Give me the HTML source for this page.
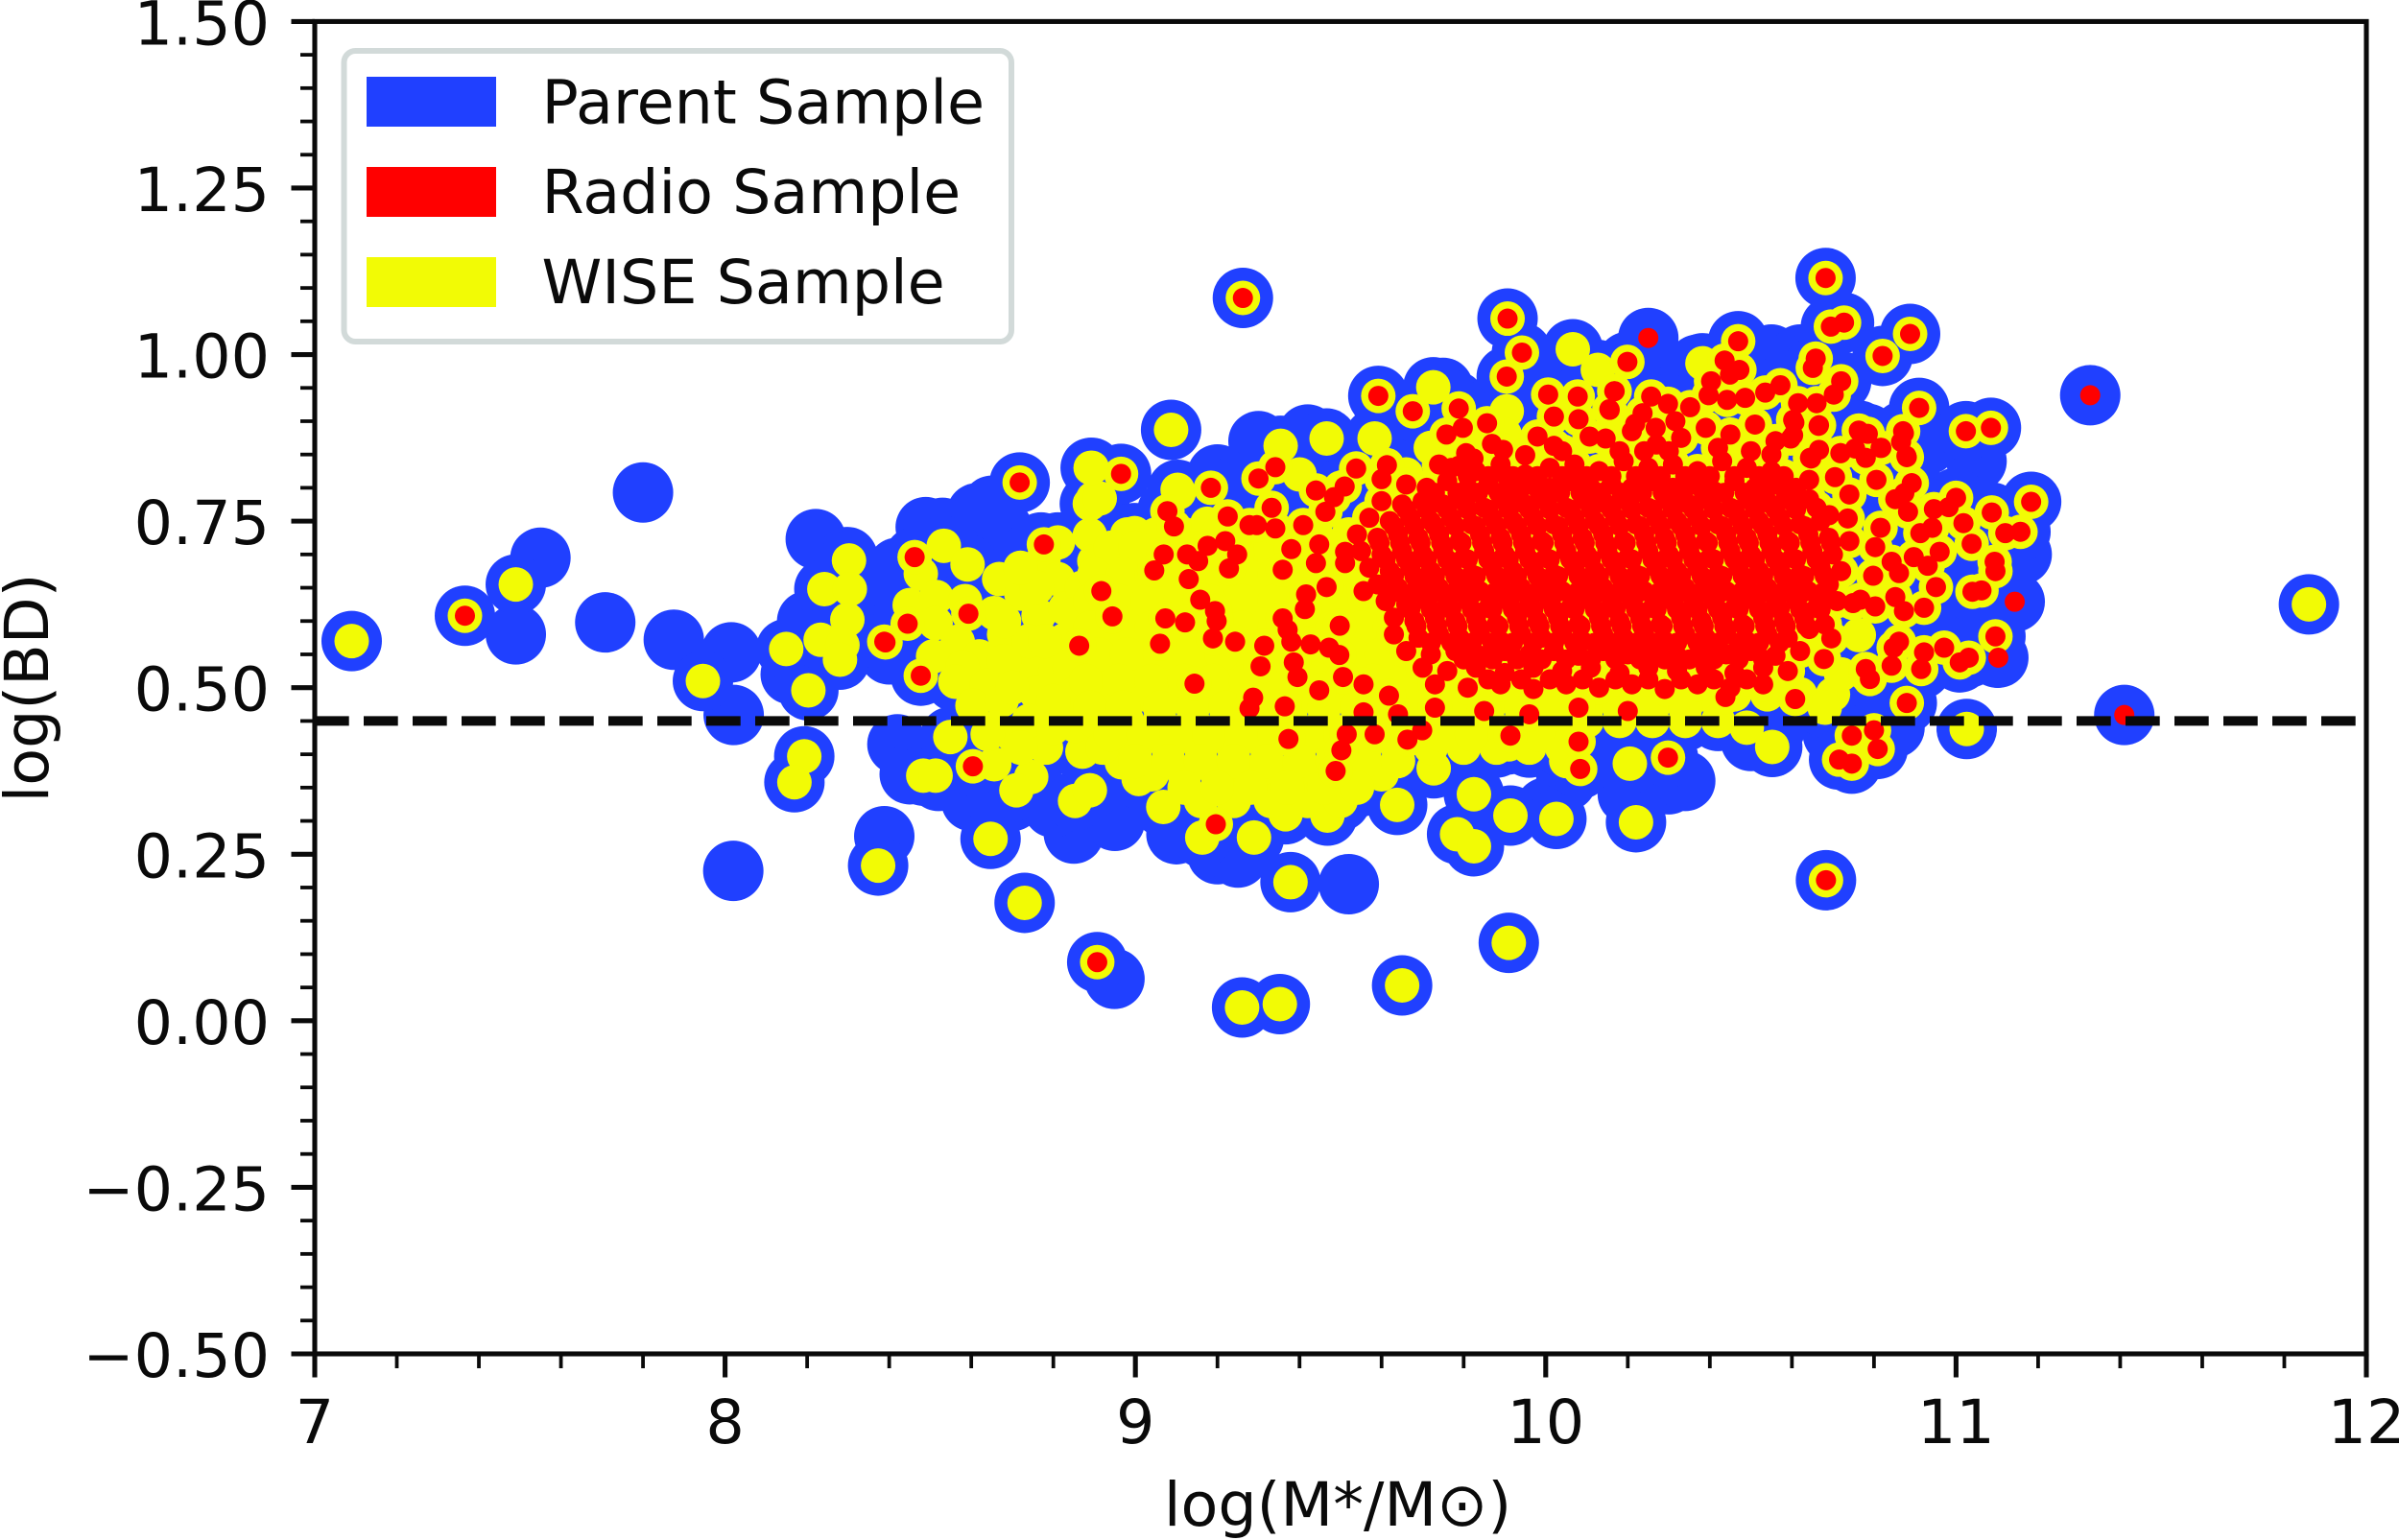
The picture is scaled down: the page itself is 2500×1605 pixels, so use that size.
<!DOCTYPE html>
<html lang="en">
<head>
<meta charset="utf-8">
<title>log(BD) vs log(M*/M⊙)</title>
<style>
html,body{margin:0;padding:0;background:#fff}
svg{display:block}
text{font-family:"DejaVu Sans","Liberation Sans",sans-serif;fill:#0a0a0a;font-size:63.5px}
</style>
</head>
<body>
<svg id="chart" width="2500" height="1605" viewBox="0 0 2500 1605" xmlns="http://www.w3.org/2000/svg">
  <rect x="0" y="0" width="2500" height="1605" fill="#ffffff"/>
  <g id="parent-layer"></g>
  <g id="wise-layer"></g>
  <g id="radio-layer"></g>
  <line id="threshold" stroke="#0a0a0a" stroke-width="10" stroke-dasharray="35.7 15.3"/>
  <g id="axes-layer"></g>
  <g>
    <rect x="358.5" y="53" width="695.5" height="303" rx="12" ry="12" fill="#ffffff" stroke="#d2dad9" stroke-width="6"/>
    <rect x="382" y="80" width="135" height="52" fill="#2040ff"/>
    <text x="564.5" y="128.5">Parent Sample</text>
    <rect x="382" y="174" width="135" height="52" fill="#ff0000"/>
    <text x="564.5" y="222">Radio Sample</text>
    <rect x="382" y="268" width="135" height="52" fill="#f2fb05"/>
    <text x="564.5" y="316">WISE Sample</text>
  </g>
  <text x="1394" y="1590" text-anchor="middle">log(M*/M⊙)</text>
  <text transform="translate(50,717) rotate(-90)" text-anchor="middle">log(BD)</text>
</svg>
<script>
const xMajorTicks = [7, 8, 9, 10, 11, 12];
const xMajorLabels = ["7", "8", "9", "10", "11", "12"];
const xMinorTicks = [7.2,7.4,7.6,7.8,8.2,8.4,8.6,8.8,9.2,9.4,9.6,9.8,10.2,10.4,10.6,10.8,11.2,11.4,11.6,11.8];
const yMajorTicks = [-0.5, -0.25, 0, 0.25, 0.5, 0.75, 1, 1.25, 1.5];
const yMajorLabels = ["−0.50", "−0.25", "0.00", "0.25", "0.50", "0.75", "1.00", "1.25", "1.50"];
const yMinorTicks = [-0.45,-0.4,-0.35,-0.3,-0.2,-0.15,-0.1,-0.05,0.05,0.1,0.15,0.2,0.3,0.35,0.4,0.45,0.55,0.6,0.65,0.7,0.8,0.85,0.9,0.95,1.05,1.1,1.15,1.2,1.3,1.35,1.4,1.45];
const thresholdValue = 0.45;

// Points in the parent sample only (blue)
const parentOnly = [[7.8,.793],[7.55,.695],[7.49,.58],[7.708,.598],[7.875,.572],[8.015,.553],[8.021,.459],[8.02,.225],[8.221,.723],[8.388,.277],[8.85,.281],[8.949,.063],[9.52,.205],[8.42,.415],[8.489,.741],[8.298,.696],[8.614,.762],[8.674,.74],[8.65,.773],[8.77,.718],[8.53,.74],[8.42,.68],[8.5,.66],[8.36,.6],[8.4,.55],[8.16,.52],[8.2,.6],[8.45,.37],[8.52,.36],[8.6,.33],[8.7,.33],[8.8,.32],[8.95,.3],[9.1,.28],[9.2,.25],[9.25,.245],[10.0,.32],[10.2,.34],[10.3,.355],[10.34,.36],[10.05,.36],[10.5,.42],[10.56,.44],[10.7,.43],[10.85,.44],[11.0,.545],[11.1,.545],[11.12,.625],[11.03,.75],[11.05,.84],[10.93,.865],[10.37,.985],[10.3,.95],[10.55,1.0],[10.62,1.0],[10.94,.7],[11.05,.6],[11.0,.67],[9.3,.87],[9.42,.88],[9.2,.82],[8.9,.76],[9.6,.93],[9.75,.95],[9.95,.95],[10.12,.96],[9.78,.93],[11.16,.7],[8.72,.5],[8.62,.42]];

// Points in the WISE sample but not the radio sample (yellow over blue)
const wiseOnly = [[7.09,.57],[7.49,.655],[7.946,.51],[8.149,.558],[8.203,.496],[8.302,.691],[8.242,.648],[8.304,.648],[8.298,.602],[8.233,.572],[8.286,.564],[8.28,.542],[8.193,.397],[8.169,.358],[8.373,.233],[8.647,.273],[8.73,.177],[9.378,.208],[9.26,.02],[9.352,.025],[9.65,.053],[9.91,.117],[11.026,.438],[11.86,.625],[9.087,.887],[9.726,.951],[10.066,1.008],[10.127,.977],[10.382,.987],[8.894,.83],[8.897,.784],[9.103,.797],[9.354,.863],[9.466,.874],[9.583,.874],[9.905,.915],[8.533,.713],[8.477,.671],[8.591,.685],[8.668,.663],[8.722,.641],[8.45,.624],[8.515,.636],[8.585,.63],[8.656,.612],[8.764,.608],[8.513,.597],[8.567,.569],[8.507,.547],[8.62,.547],[8.579,.531],[8.561,.509],[8.638,.503],[8.716,.539],[8.758,.531],[8.758,.492],[8.603,.473],[8.674,.481],[8.811,.718],[8.776,.693],[8.889,.729],[8.889,.776],[8.913,.784],[8.891,.83],[8.998,.732],[8.949,.702],[9.106,.793],[9.175,.746],[8.811,.663],[8.829,.619],[8.829,.572],[8.805,.525],[8.889,.487],[8.949,.531],[8.549,.426],[8.483,.368],[8.513,.368],[8.656,.385],[8.704,.426],[8.782,.41],[8.746,.366],[8.71,.346],[8.853,.33],[8.889,.346],[8.871,.404],[8.853,.443],[8.967,.388],[9.008,.363],[9.068,.321],[9.163,.275],[9.289,.275],[9.366,.31],[9.271,.36],[9.318,.36],[9.468,.308],[9.825,.34],[9.784,.28],[9.825,.262],[9.914,.308],[10.026,.303],[10.22,.298],[10.205,.386],[10.05,.39],[9.638,.324],[9.91,.415],[9.727,.379],[10.552,.411],[10.49,.44],[10.763,.579],
[8.98,.73],[9.05,.73],[9.12,.73],[9.2,.73],[9.3,.73],[9.38,.73],[9.44,.73],[9.52,.73],
[8.9,.69],[8.98,.69],[9.04,.69],[9.1,.69],[9.2,.69],[9.28,.69],[9.34,.69],[9.42,.69],[9.5,.69],[9.56,.69],
[8.87,.65],[8.93,.65],[9.0,.65],[9.08,.65],[9.16,.65],[9.23,.65],[9.3,.65],[9.37,.65],[9.44,.65],[9.52,.65],[9.6,.65],
[8.85,.61],[8.92,.61],[9.0,.61],[9.07,.61],[9.14,.61],[9.22,.61],[9.3,.61],[9.37,.61],[9.45,.61],[9.52,.61],[9.6,.61],
[8.87,.57],[8.95,.57],[9.02,.57],[9.1,.57],[9.17,.57],[9.25,.57],[9.33,.57],[9.41,.57],[9.5,.57],[9.57,.57],[9.64,.57],
[8.84,.53],[8.92,.53],[9.0,.53],[9.08,.53],[9.15,.53],[9.23,.53],[9.3,.53],[9.38,.53],[9.46,.53],[9.54,.53],[9.62,.53],
[8.85,.49],[8.93,.49],[9.02,.49],[9.1,.49],[9.18,.49],[9.26,.49],[9.34,.49],[9.42,.49],[9.5,.49],[9.58,.49],[9.66,.49],[9.74,.49],[9.82,.49],[9.9,.49],[9.98,.49],[10.06,.49],[10.14,.49],[10.22,.49],[10.3,.49],[10.38,.49],[10.46,.49],[10.54,.49],[10.62,.49],[10.7,.49],
[8.9,.45],[8.98,.45],[9.06,.45],[9.14,.45],[9.22,.45],[9.3,.45],[9.38,.45],[9.46,.45],[9.54,.45],[9.62,.45],[9.7,.45],[9.78,.45],[9.86,.45],[9.94,.45],[10.02,.45],[10.1,.45],[10.18,.45],[10.26,.45],[10.34,.45],[10.42,.45],
[8.92,.41],[9.0,.41],[9.08,.41],[9.16,.41],[9.24,.41],[9.32,.41],[9.4,.41],[9.48,.41],[9.56,.41],[9.64,.41],[9.72,.41],[9.8,.41],[9.88,.41],[9.96,.41],[10.04,.41],
[9.04,.37],[9.12,.37],[9.2,.37],[9.28,.37],[9.36,.37],[9.44,.37],[9.52,.37],[9.6,.37],
[9.16,.33],[9.24,.33],[9.33,.33],[9.42,.33],[9.5,.33],
[9.6,.76],[9.66,.82],[9.72,.86],[9.5,.8],[9.4,.82],[9.6,.7],[9.9,.88],[10.72,.52],[10.68,.47],[10.78,.52],
[8.94,.71],[9.0,.71],[9.08,.71],[9.16,.71],[9.24,.71],[9.33,.71],[9.4,.71],[9.48,.71],[9.55,.71],
[8.9,.67],[8.97,.67],[9.04,.67],[9.12,.67],[9.2,.67],[9.27,.67],[9.34,.67],[9.41,.67],[9.48,.67],[9.56,.67],[9.64,.67],
[8.89,.63],[8.96,.63],[9.03,.63],[9.11,.63],[9.18,.63],[9.26,.63],[9.34,.63],[9.41,.63],[9.49,.63],[9.56,.63],
[8.89,.59],[8.96,.59],[9.04,.59],[9.11,.59],[9.18,.59],[9.26,.59],[9.34,.59],[9.41,.59],[9.48,.59],[9.55,.59],[9.62,.59],
[8.91,.55],[8.98,.55],[9.06,.55],[9.14,.55],[9.21,.55],[9.29,.55],[9.37,.55],[9.45,.55],[9.53,.55],[9.6,.55],
[8.88,.51],[8.96,.51],[9.04,.51],[9.12,.51],[9.19,.51],[9.27,.51],[9.34,.51],[9.42,.51],[9.5,.51],[9.58,.51],[9.66,.51],
[8.89,.47],[8.97,.47],[9.06,.47],[9.14,.47],[9.22,.47],[9.3,.47],[9.38,.47],[9.46,.47],[9.54,.47],[9.62,.47],[9.7,.47],[9.78,.47],[9.86,.47],[9.94,.47],[10.02,.47],[10.1,.47],[10.18,.47],[10.26,.47],[10.34,.47],
[8.94,.43],[9.02,.43],[9.1,.43],[9.18,.43],[9.26,.43],[9.34,.43],[9.42,.43],[9.5,.43],[9.58,.43],[9.66,.43],[9.74,.43],[9.82,.43],[9.9,.43],[9.98,.43],
[9.0,.39],[9.08,.39],[9.16,.39],[9.24,.39],[9.32,.39],[9.4,.39],[9.48,.39],[9.56,.39],[9.64,.39],
[9.12,.35],[9.2,.35],[9.28,.35],[9.37,.35],[9.46,.35],[9.54,.35],
[8.68,.58],[8.74,.57],[8.68,.54],[8.78,.57],[8.7,.5],[8.8,.48],[8.66,.44],[8.74,.45],[8.8,.44],[8.72,.41],[8.64,.43],[8.68,.6],[8.76,.65],[8.72,.68]];

// Points in both the radio and WISE samples (red over yellow over blue)
const radioWise = [[7.366,.608],[8.388,.569],[8.907,.088],[9.262,1.085],[10.682,1.115],[10.695,1.042],[10.727,1.048],[10.888,1.031],[10.821,.998],[10.469,1.02],[10.199,.989],[10.006,.94],[10.078,.937],[10.167,.945],[10.156,.917],[10.436,.991],[10.449,.97],[10.472,.977],[10.403,.96],[10.397,.939],[10.658,.994],[10.651,.98],[10.72,.96],[10.702,.94],[10.91,.92],[11.024,.885],[11.085,.89],[10.879,.848],[10.892,.807],[10.874,.792],[10.852,.783],[10.883,.764],[10.763,.886],[10.785,.881],[10.718,.852],[10.754,.859],[10.78,.845],[10.816,.86],[10.615,.927],[10.66,.927],[10.606,.898],[10.597,.874],[10.666,.894],[10.666,.857],[10.644,.845],[10.806,.812],[10.642,.812],[10.642,.783],[10.705,.816],[10.74,.79],[10.691,.759],[10.736,.754],[10.803,.711],[10.816,.74],[11.0,.785],[10.982,.771],[10.946,.768],[11.087,.763],[11.183,.779],[11.12,.732],[11.157,.734],[11.018,.747],[11.038,.716],[10.913,.732],[10.942,.74],[10.897,.696],[10.96,.704],[10.931,.683],[11.094,.689],[11.096,.675],[10.843,.689],[10.861,.672],[10.798,.668],[10.951,.651],[11.04,.644],[11.062,.646],[10.767,.632],[10.803,.622],[10.749,.627],[10.852,.636],[10.873,.615],[10.922,.62],[11.096,.577],[10.861,.569],[10.848,.56],[10.922,.553],[10.971,.56],[11.009,.538],[11.031,.545],[10.678,.543],[10.696,.574],[10.642,.588],[10.78,.528],[10.843,.533],[10.915,.528],
[9.907,1.054],[9.942,1.003],[9.905,.967],[9.592,.938],[9.676,.915],[9.788,.919],[9.857,.897],[9.798,.89],[9.758,.88],[8.718,.808],[8.965,.821],[9.184,.8],[9.341,.831],[9.3,.814],[9.538,.829],[9.613,.834],[9.6,.813],[9.44,.796],[9.51,.802],[9.484,.786],[9.463,.764],[9.74,.835],[9.806,.852],[9.824,.844],[9.788,.833],[9.869,.866],[9.896,.857],[9.95,.849],[9.98,.877],[10.02,.907],[10.02,.863],[10.08,.903],[10.107,.877],[10.146,.874],[10.155,.918],[10.168,.945],[10.257,.937],[10.298,.926],[10.236,.912],[10.218,.896],[10.268,.89],[10.316,.9],[10.352,.921],[10.442,.932],[10.486,.935],[10.535,.943],[10.572,.954],[10.603,.902],[10.603,.879],[10.665,.893],[10.647,.844],[10.719,.852],
[8.777,.715],[9.078,.765],[9.094,.742],[9.225,.757],[9.278,.744],[9.296,.744],[9.332,.77],[9.341,.739],[9.409,.744],[9.176,.713],[9.219,.72],[9.248,.7],[9.069,.7],[9.126,.7],[9.153,.69],[9.046,.676],[9.228,.679],[9.13,.663],[9.38,.708],[9.448,.715],[9.511,.704],[9.44,.687],[9.511,.687],[9.359,.677],[8.917,.645],[9.466,.651],[9.416,.64],[9.556,.645],[9.158,.632],[9.194,.615],[9.198,.6],[8.944,.607],[9.073,.604],[9.121,.598],[8.593,.611],[9.413,.618],[9.359,.604],[9.371,.587],[9.498,.593],[9.189,.574],[9.243,.569],[8.863,.563],[9.06,.566],[9.314,.563],[9.305,.532],[9.38,.569],[9.427,.565],[9.472,.56],[9.497,.549],[9.386,.538],[9.395,.516],[9.144,.506],[9.506,.516],[9.448,.496],[9.556,.505],[9.287,.485],[9.278,.469],[9.364,.472],[9.618,.488],[9.556,.463],[9.373,.423],[9.515,.43],[9.583,.43],[9.502,.406],[9.488,.375],[9.663,.422],[9.699,.436],[9.914,.428],[10.08,.419],[10.298,.395],[10.084,.378],[8.604,.382],[10.438,.486],[10.608,.483],[10.88,.477],[10.79,.513],[10.746,.428],[10.8,.436],[10.809,.408],[10.715,.392],[10.746,.386],[10.871,.885],[10.818,.86],[10.764,.885],[10.88,.846],[8.391,.568],[8.477,.518],[8.462,.696],[8.445,.596],[9.196,.295],[10.683,.211],
[9.77,.83],[9.83,.825],[9.89,.835],[9.95,.82],[10.01,.83],[10.07,.835],[10.13,.825],[10.19,.84],[10.25,.83],[10.31,.835],[10.37,.825],[10.43,.84],[10.49,.83],[10.55,.825],
[9.66,.805],[9.71,.8],[9.76,.81],[9.81,.8],[9.86,.805],[9.91,.795],[9.96,.805],[10.01,.8],[10.06,.81],[10.11,.8],[10.16,.805],[10.21,.8],[10.26,.81],[10.31,.8],[10.36,.805],[10.41,.795],[10.46,.81],[10.51,.8],[10.56,.805],[10.61,.8],
[9.6,.78],[9.65,.775],[9.7,.78],[9.75,.775],[9.8,.78],[9.85,.77],[9.9,.78],[9.95,.775],[10.0,.78],[10.05,.77],[10.1,.78],[10.15,.775],[10.2,.78],[10.25,.77],[10.3,.78],[10.35,.775],[10.4,.78],[10.45,.77],[10.5,.78],[10.55,.775],[10.6,.78],[10.66,.77],
[9.57,.755],[9.62,.75],[9.67,.755],[9.72,.75],[9.77,.755],[9.82,.745],[9.87,.755],[9.92,.75],[9.97,.755],[10.02,.745],[10.07,.755],[10.12,.75],[10.17,.755],[10.22,.745],[10.27,.755],[10.32,.75],[10.37,.755],[10.42,.745],[10.47,.755],[10.52,.75],[10.57,.755],[10.62,.745],[10.67,.75],
[9.54,.73],[9.59,.725],[9.64,.73],[9.69,.725],[9.74,.73],[9.79,.72],[9.84,.73],[9.89,.725],[9.94,.73],[9.99,.72],[10.04,.73],[10.09,.725],[10.14,.73],[10.19,.72],[10.24,.73],[10.29,.725],[10.34,.73],[10.39,.72],[10.44,.73],[10.49,.725],[10.54,.73],[10.59,.72],[10.64,.73],[10.69,.725],[10.74,.72],
[9.55,.705],[9.6,.7],[9.65,.705],[9.7,.7],[9.75,.705],[9.8,.695],[9.85,.705],[9.9,.7],[9.95,.705],[10.0,.695],[10.05,.705],[10.1,.7],[10.15,.705],[10.2,.695],[10.25,.705],[10.3,.7],[10.35,.705],[10.4,.695],[10.45,.705],[10.5,.7],[10.55,.705],[10.6,.695],[10.65,.705],[10.7,.7],
[9.57,.68],[9.62,.675],[9.67,.68],[9.72,.675],[9.77,.68],[9.82,.67],[9.87,.68],[9.92,.675],[9.97,.68],[10.02,.67],[10.07,.68],[10.12,.675],[10.17,.68],[10.22,.67],[10.27,.68],[10.32,.675],[10.37,.68],[10.42,.67],[10.47,.68],[10.52,.675],[10.57,.68],[10.62,.67],[10.67,.68],[10.72,.675],
[9.59,.655],[9.64,.65],[9.69,.655],[9.74,.65],[9.79,.655],[9.84,.645],[9.89,.655],[9.94,.65],[9.99,.655],[10.04,.645],[10.09,.655],[10.14,.65],[10.19,.655],[10.24,.645],[10.29,.655],[10.34,.65],[10.39,.655],[10.44,.645],[10.49,.655],[10.54,.65],[10.59,.655],[10.64,.645],[10.69,.655],
[9.61,.63],[9.66,.625],[9.71,.63],[9.76,.625],[9.81,.63],[9.86,.62],[9.91,.63],[9.96,.625],[10.01,.63],[10.06,.62],[10.11,.63],[10.16,.625],[10.21,.63],[10.26,.62],[10.31,.63],[10.36,.625],[10.41,.63],[10.46,.62],[10.51,.63],[10.56,.625],[10.61,.63],[10.66,.62],[10.71,.63],
[9.63,.605],[9.68,.6],[9.73,.605],[9.78,.6],[9.83,.605],[9.88,.595],[9.93,.605],[9.98,.6],[10.03,.605],[10.08,.595],[10.13,.605],[10.18,.6],[10.23,.605],[10.28,.595],[10.33,.605],[10.38,.6],[10.43,.605],[10.48,.595],[10.53,.605],[10.58,.6],[10.63,.605],[10.68,.595],
[9.63,.58],[9.69,.575],[9.74,.58],[9.79,.575],[9.84,.58],[9.89,.57],[9.94,.58],[9.99,.575],[10.04,.58],[10.09,.57],[10.14,.58],[10.19,.575],[10.24,.58],[10.29,.57],[10.34,.58],[10.39,.575],[10.44,.58],[10.49,.57],[10.54,.58],[10.59,.575],
[9.66,.555],[9.72,.55],[9.78,.555],[9.84,.548],[9.9,.555],[9.96,.55],[10.02,.555],[10.08,.548],[10.14,.555],[10.2,.55],[10.26,.555],[10.32,.548],[10.38,.555],[10.44,.55],[10.5,.555],[10.56,.548],[10.62,.555],
[9.7,.53],[9.76,.525],[9.83,.53],[9.9,.522],[9.97,.53],[10.04,.525],[10.11,.53],[10.18,.522],[10.25,.53],[10.32,.525],[10.39,.53],[10.46,.522],[10.53,.53],[10.59,.525],
[9.73,.505],[9.81,.5],[9.89,.505],[9.97,.498],[10.05,.505],[10.13,.5],[10.21,.505],[10.29,.498],[10.37,.505],[10.45,.5],[10.53,.505],
[9.73,.47],[9.85,.465],[9.96,.46],[10.08,.47],[10.2,.465],[9.64,.46],
[10.21,.885],[10.27,.865],[10.33,.875],[10.39,.89],[10.45,.88],[10.51,.895],[10.56,.87],[10.3,.855],[10.42,.86],[10.5,.855],[10.24,.855],[10.18,.855],[9.9,.82],[10.04,.855],[10.55,.85],
[9.81,.8175],[9.86,.8175],[9.92,.8175],[9.98,.8175],[10.04,.8175],[10.1,.8175],[10.16,.8175],[10.22,.8175],[10.28,.8175],[10.34,.8175],[10.4,.8175],[10.46,.8175],[10.52,.8175],[10.58,.8175],
[9.73,.7925],[9.785,.7925],[9.835,.7925],[9.885,.7925],[9.935,.7925],[9.985,.7925],[10.035,.7925],[10.085,.7925],[10.135,.7925],[10.185,.7925],[10.235,.7925],[10.285,.7925],[10.335,.7925],[10.385,.7925],[10.435,.7925],[10.485,.7925],[10.535,.7925],[10.585,.7925],
[9.66,.7675],[9.71,.7675],[9.76,.7675],[9.81,.7675],[9.86,.7675],[9.91,.7675],[9.96,.7675],[10.01,.7675],[10.06,.7675],[10.11,.7675],[10.16,.7675],[10.21,.7675],[10.26,.7675],[10.31,.7675],[10.36,.7675],[10.41,.7675],[10.46,.7675],[10.51,.7675],[10.56,.7675],[10.61,.7675],
[9.63,.7425],[9.68,.7425],[9.73,.7425],[9.78,.7425],[9.83,.7425],[9.88,.7425],[9.93,.7425],[9.98,.7425],[10.03,.7425],[10.08,.7425],[10.13,.7425],[10.18,.7425],[10.23,.7425],[10.28,.7425],[10.33,.7425],[10.38,.7425],[10.43,.7425],[10.48,.7425],[10.53,.7425],[10.58,.7425],[10.63,.7425],
[9.595,.7175],[9.645,.7175],[9.695,.7175],[9.745,.7175],[9.795,.7175],[9.845,.7175],[9.895,.7175],[9.945,.7175],[9.995,.7175],[10.045,.7175],[10.095,.7175],[10.145,.7175],[10.195,.7175],[10.245,.7175],[10.295,.7175],[10.345,.7175],[10.395,.7175],[10.445,.7175],[10.495,.7175],[10.545,.7175],[10.595,.7175],[10.645,.7175],[10.695,.7175],
[9.61,.6925],[9.66,.6925],[9.71,.6925],[9.76,.6925],[9.81,.6925],[9.86,.6925],[9.91,.6925],[9.96,.6925],[10.01,.6925],[10.06,.6925],[10.11,.6925],[10.16,.6925],[10.21,.6925],[10.26,.6925],[10.31,.6925],[10.36,.6925],[10.41,.6925],[10.46,.6925],[10.51,.6925],[10.56,.6925],[10.61,.6925],[10.66,.6925],
[9.63,.6675],[9.68,.6675],[9.73,.6675],[9.78,.6675],[9.83,.6675],[9.88,.6675],[9.93,.6675],[9.98,.6675],[10.03,.6675],[10.08,.6675],[10.13,.6675],[10.18,.6675],[10.23,.6675],[10.28,.6675],[10.33,.6675],[10.38,.6675],[10.43,.6675],[10.48,.6675],[10.53,.6675],[10.58,.6675],[10.63,.6675],[10.68,.6675],
[9.625,.6425],[9.675,.6425],[9.725,.6425],[9.775,.6425],[9.825,.6425],[9.875,.6425],[9.925,.6425],[9.975,.6425],[10.025,.6425],[10.075,.6425],[10.125,.6425],[10.175,.6425],[10.225,.6425],[10.275,.6425],[10.325,.6425],[10.375,.6425],[10.425,.6425],[10.475,.6425],[10.525,.6425],[10.575,.6425],[10.625,.6425],[10.675,.6425],
[9.67,.6175],[9.72,.6175],[9.77,.6175],[9.82,.6175],[9.87,.6175],[9.92,.6175],[9.97,.6175],[10.02,.6175],[10.07,.6175],[10.12,.6175],[10.17,.6175],[10.22,.6175],[10.27,.6175],[10.32,.6175],[10.37,.6175],[10.42,.6175],[10.47,.6175],[10.52,.6175],[10.57,.6175],[10.62,.6175],[10.67,.6175],
[9.685,.5925],[9.735,.5925],[9.785,.5925],[9.835,.5925],[9.885,.5925],[9.935,.5925],[9.985,.5925],[10.035,.5925],[10.085,.5925],[10.135,.5925],[10.185,.5925],[10.235,.5925],[10.285,.5925],[10.335,.5925],[10.385,.5925],[10.435,.5925],[10.485,.5925],[10.535,.5925],[10.585,.5925],[10.635,.5925],
[9.72,.5675],[9.77,.5675],[9.82,.5675],[9.87,.5675],[9.92,.5675],[9.97,.5675],[10.02,.5675],[10.07,.5675],[10.12,.5675],[10.17,.5675],[10.22,.5675],[10.27,.5675],[10.32,.5675],[10.37,.5675],[10.42,.5675],[10.47,.5675],[10.52,.5675],[10.57,.5675],
[9.8,.5425],[9.87,.5425],[9.93,.5425],[9.99,.5425],[10.05,.5425],[10.11,.5425],[10.17,.5425],[10.23,.5425],[10.29,.5425],[10.35,.5425],[10.41,.5425],[10.47,.5425],[10.53,.5425],
[9.86,.5125],[9.94,.5125],[10.01,.5125],[10.09,.5125],[10.17,.5125],[10.25,.5125],[10.33,.5125],[10.41,.5125],[10.49,.5125]];

// Points in the radio sample with no WISE counterpart (red over blue)
const radioOnly = [[10.25,1.025],[11.327,.939],[10.873,.882],[10.866,.869],[11.143,.629],[11.103,.545],[11.41,.459]];

const plotLeft = 328, plotRight = 2466, plotTop = 22.4, plotBottom = 1411;
const xMin = 7, xMax = 12, yMin = -0.5, yMax = 1.5;
function xScale(v){ return plotLeft + (v - xMin) * (plotRight - plotLeft) / (xMax - xMin); }
function yScale(v){ return plotBottom - (v - yMin) * (plotBottom - plotTop) / (yMax - yMin); }

const NS = "http://www.w3.org/2000/svg";
function drawPoints(layerId, points, radius, colour, markName){
  const layer = document.getElementById(layerId);
  points.forEach(function(p){
    const c = document.createElementNS(NS, "circle");
    c.setAttribute("cx", xScale(p[0]));
    c.setAttribute("cy", yScale(p[1]));
    c.setAttribute("r", radius);
    c.setAttribute("fill", colour);
    
    
    layer.appendChild(c);
  });
}
const allPoints = parentOnly.concat(wiseOnly, radioWise, radioOnly);
drawPoints("parent-layer", allPoints, 31.5, "#2040ff", "parent-point");
drawPoints("wise-layer", wiseOnly.concat(radioWise), 18, "#f2fb05", "wise-point");
drawPoints("radio-layer", radioWise.concat(radioOnly), 10.5, "#ff0000", "radio-point");

const th = document.getElementById("threshold");
th.setAttribute("x1", xScale(xMin));
th.setAttribute("x2", xScale(xMax));
th.setAttribute("y1", yScale(thresholdValue));
th.setAttribute("y2", yScale(thresholdValue));

const axes = document.getElementById("axes-layer");
function addTick(x1, y1, x2, y2, w, name){
  const l = document.createElementNS(NS, "line");
  l.setAttribute("x1", x1);
  l.setAttribute("y1", y1);
  l.setAttribute("x2", x2);
  l.setAttribute("y2", y2);
  l.setAttribute("stroke", "#0a0a0a");
  l.setAttribute("stroke-width", w);
  
  
  axes.appendChild(l);
}
function addLabel(x, y, anchor, str, name){
  const t = document.createElementNS(NS, "text");
  t.setAttribute("x", x);
  t.setAttribute("y", y);
  t.setAttribute("text-anchor", anchor);
  t.textContent = str;
  
  
  axes.appendChild(t);
}
xMinorTicks.forEach(function(v){ addTick(xScale(v), plotBottom, xScale(v), plotBottom + 15, 3.8, "x-minor-tick"); });
yMinorTicks.forEach(function(v){ addTick(plotLeft, yScale(v), plotLeft - 15, yScale(v), 3.8, "y-minor-tick"); });
xMajorTicks.forEach(function(v, i){
  addTick(xScale(v), plotBottom, xScale(v), plotBottom + 24.5, 5.1, "x-major-tick");
  addLabel(xScale(v), 1504, "middle", xMajorLabels[i], "x-tick-label");
});
yMajorTicks.forEach(function(v, i){
  addTick(plotLeft, yScale(v), plotLeft - 24.5, yScale(v), 5.1, "y-major-tick");
  addLabel(281, yScale(v) + 24, "end", yMajorLabels[i], "y-tick-label");
});
const frame = document.createElementNS(NS, "rect");
frame.setAttribute("x", plotLeft);
frame.setAttribute("y", plotTop);
frame.setAttribute("width", plotRight - plotLeft);
frame.setAttribute("height", plotBottom - plotTop);
frame.setAttribute("fill", "none");
frame.setAttribute("stroke", "#0a0a0a");
frame.setAttribute("stroke-width", 5.1);


axes.appendChild(frame);
</script>
</body>
</html>
